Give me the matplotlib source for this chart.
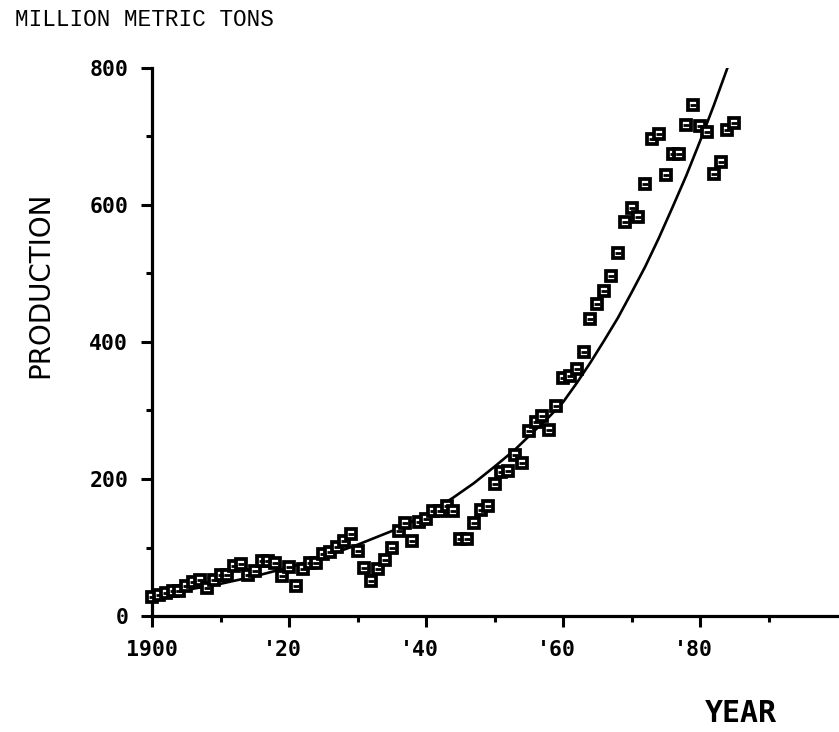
import matplotlib
matplotlib.use('Agg')
import matplotlib.pyplot as plt
import matplotlib.transforms as mtransforms

# world steel production, million metric tons
years = list(range(1900, 1986))
production = [28, 31, 34, 36, 36, 44, 50, 52, 41, 53,
              60, 60, 73, 76, 60, 66, 80, 81, 78, 58,
              72, 44, 68, 78, 78, 90, 93, 101, 109, 120,
              95, 70, 51, 68, 82, 99, 124, 136, 110, 137,
              141, 153, 153, 161, 153, 113, 112, 136, 155, 160,
              192, 210, 212, 235, 224, 270, 283, 292, 271, 306,
              347, 351, 360, 386, 434, 456, 474, 497, 530, 575,
              595, 582, 630, 697, 703, 644, 675, 675, 717, 746,
              716, 707, 645, 663, 710, 719]

# trend curve, points
curve_years = [1900, 1905, 1910, 1915, 1920, 1925, 1930, 1935, 1938,
               1941, 1944, 1947, 1950, 1953, 1956, 1958, 1960, 1962,
               1964, 1966, 1968, 1970, 1972, 1974, 1976, 1978, 1980,
               1982, 1984]
curve_values = [30, 38, 47, 58, 71, 86, 104, 124, 138,
                154, 173, 194, 218, 243, 272, 291, 312, 340,
                370, 402, 435, 472, 510, 552, 597, 643, 693,
                745, 800]

xticks = [1900, 1920, 1940, 1960, 1980]
xtick_labels = ['1900', "'20", "'40", "'60", "'80"]
xminor = [1910, 1930, 1950, 1970, 1990]
yticks = [0, 200, 400, 600, 800]
yminor = [100, 300, 500, 700]

W, H = 839, 732
fig = plt.figure(figsize=(W / 100, H / 100), dpi=100)
ax = fig.add_axes([152 / W, (H - 616) / H, (837 - 152) / W, (616 - 68) / H])

ax.plot(curve_years, curve_values, color='black', lw=1.9, zorder=2)
ax.plot(years, production, ls='none', marker='s', ms=7.2, mfc='white',
        mec='black', mew=2.7, zorder=3, clip_on=False)
ax.plot(years, production, ls='none', marker='_', ms=4.5, mec='black',
        mew=2.0, zorder=4, clip_on=False)

ax.set_xlim(1900, 2000)
ax.set_ylim(0, 800)

for side in ['top', 'right']:
    ax.spines[side].set_visible(False)
for side in ['left', 'bottom']:
    ax.spines[side].set_linewidth(2.3)
    ax.spines[side].set_capstyle('projecting')

tick_font = {'family': 'DejaVu Sans Mono', 'weight': 'bold', 'size': 15.5}
ax.set_xticks(xticks)
ax.set_xticklabels(xtick_labels, fontdict=tick_font)
ax.set_xticks(xminor, minor=True)
ax.set_yticks(yticks)
ax.set_yticklabels([str(v) for v in yticks], fontdict=tick_font)
ax.set_yticks(yminor, minor=True)

ax.tick_params(which='major', direction='out', length=8, width=2.2, pad=9)
ax.tick_params(which='minor', direction='out', length=4.5, width=2.2)

# shift the "'20" style labels so the digits sit under the tick
shift = mtransforms.ScaledTranslation(-0.065, 0, fig.dpi_scale_trans)
for lab in ax.get_xticklabels()[1:]:
    lab.set_transform(lab.get_transform() + shift)

fig.text(15 / W, 1 - 19 / H, 'MILLION METRIC TONS', family='Liberation Mono',
         fontsize=16.4, ha='left', va='center')
fig.text(40 / W, 1 - 285 / H, 'PRODUCTION', family='DejaVu Sans',
         fontsize=20, rotation=90, ha='center', va='center')
fig.text(741 / W, 1 - 713 / H, 'YEAR', family='DejaVu Sans Mono',
         weight='bold', fontsize=21.5, ha='center', va='center')

fig.savefig('out.png', dpi=100)
